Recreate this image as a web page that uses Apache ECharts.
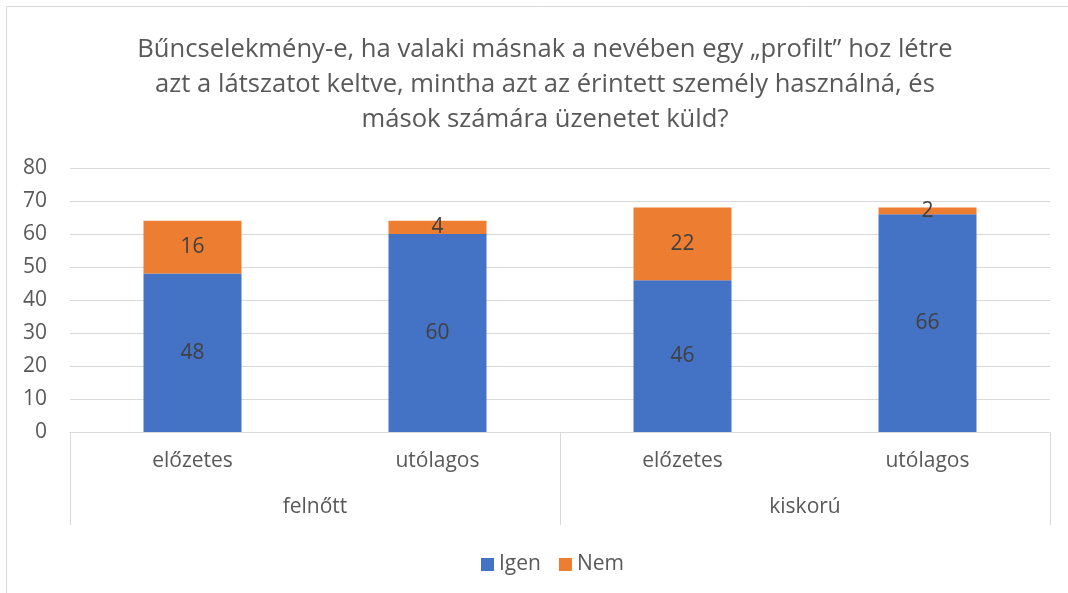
<!DOCTYPE html>
<html>
<head>
<meta charset="utf-8">
<script src="https://cdn.jsdelivr.net/npm/echarts@6/dist/echarts.min.js"></script>
<style>html,body{margin:0;padding:0;background:#fff}#c{width:1068px;height:593px}</style>
</head>
<body>
<div id="c"></div>
<script>
const titleText = 'Bűncselekmény-e, ha valaki másnak a nevében egy „profilt” hoz létre\nazt a látszatot keltve, mintha azt az érintett személy használná, és\nmások számára üzenetet küld?';
const categories = ['előzetes', 'utólagos', 'előzetes', 'utólagos'];
const groups = ['felnőtt', 'kiskorú'];
const igen = [48, 60, 46, 66];
const nem = [16, 4, 22, 2];
const yTicks = { min: 0, max: 80, interval: 10 };

const FONT = 'Open Sans';
const TXT = '#595959';
const FS = 21;
const chart = echarts.init(document.getElementById('c'));
chart.setOption({
  animation: false,
  backgroundColor: '#fff',
  textStyle: { fontFamily: FONT },
  title: {
    text: titleText,
    left: 540, top: 27, textAlign: 'center',
    textStyle: { fontFamily: FONT, fontSize: 25.6, fontWeight: 'normal', color: TXT, lineHeight: 35 }
  },
  legend: {
    data: ['Igen', 'Nem'],
    left: 476, top: 549,
    itemWidth: 13, itemHeight: 13, itemGap: 18,
    icon: 'rect',
    textStyle: { fontFamily: FONT, fontSize: FS, color: TXT, padding: [0, 0, 0, 0] }
  },
  grid: { left: 70, right: 18, top: 168, bottom: 161, containLabel: false },
  xAxis: [
    {
      type: 'category', data: categories, position: 'bottom',
      axisLine: { show: true, lineStyle: { color: '#d9d9d9', width: 1 } },
      axisTick: { show: false },
      axisLabel: { color: TXT, fontSize: FS, fontFamily: FONT, margin: 19 }
    },
    {
      type: 'category', data: groups, position: 'bottom',
      axisLine: { show: false },
      axisTick: { show: true, length: 93, lineStyle: { color: '#d9d9d9', width: 1 } },
      axisLabel: { color: TXT, fontSize: FS, fontFamily: FONT, margin: 65 }
    }
  ],
  yAxis: {
    type: 'value', min: yTicks.min, max: yTicks.max, interval: yTicks.interval,
    axisLine: { show: false }, axisTick: { show: false },
    splitLine: { lineStyle: { color: '#d9d9d9', width: 1 } },
    axisLabel: { color: TXT, fontSize: FS, fontFamily: FONT, margin: 23 }
  },
  series: [
    {
      name: 'Igen', type: 'bar', stack: 's', data: igen, barWidth: '40%',
      itemStyle: { color: '#4472C4' },
      label: { show: true, position: 'inside', color: '#404040', fontSize: FS, fontFamily: FONT }
    },
    {
      name: 'Nem', type: 'bar', stack: 's', data: nem, barWidth: '40%',
      itemStyle: { color: '#ED7D31' },
      label: { show: true, position: 'inside', color: '#404040', fontSize: FS, fontFamily: FONT }
    }
  ],
  graphic: [
    { type: 'line', shape: { x1: 6.5, y1: 6.5, x2: 1068, y2: 6.5 }, style: { stroke: '#d9d9d9', lineWidth: 1 }, silent: true },
    { type: 'line', shape: { x1: 6.5, y1: 6.5, x2: 6.5, y2: 593 }, style: { stroke: '#d9d9d9', lineWidth: 1 }, silent: true }
  ]
});
</script>
</body>
</html>
